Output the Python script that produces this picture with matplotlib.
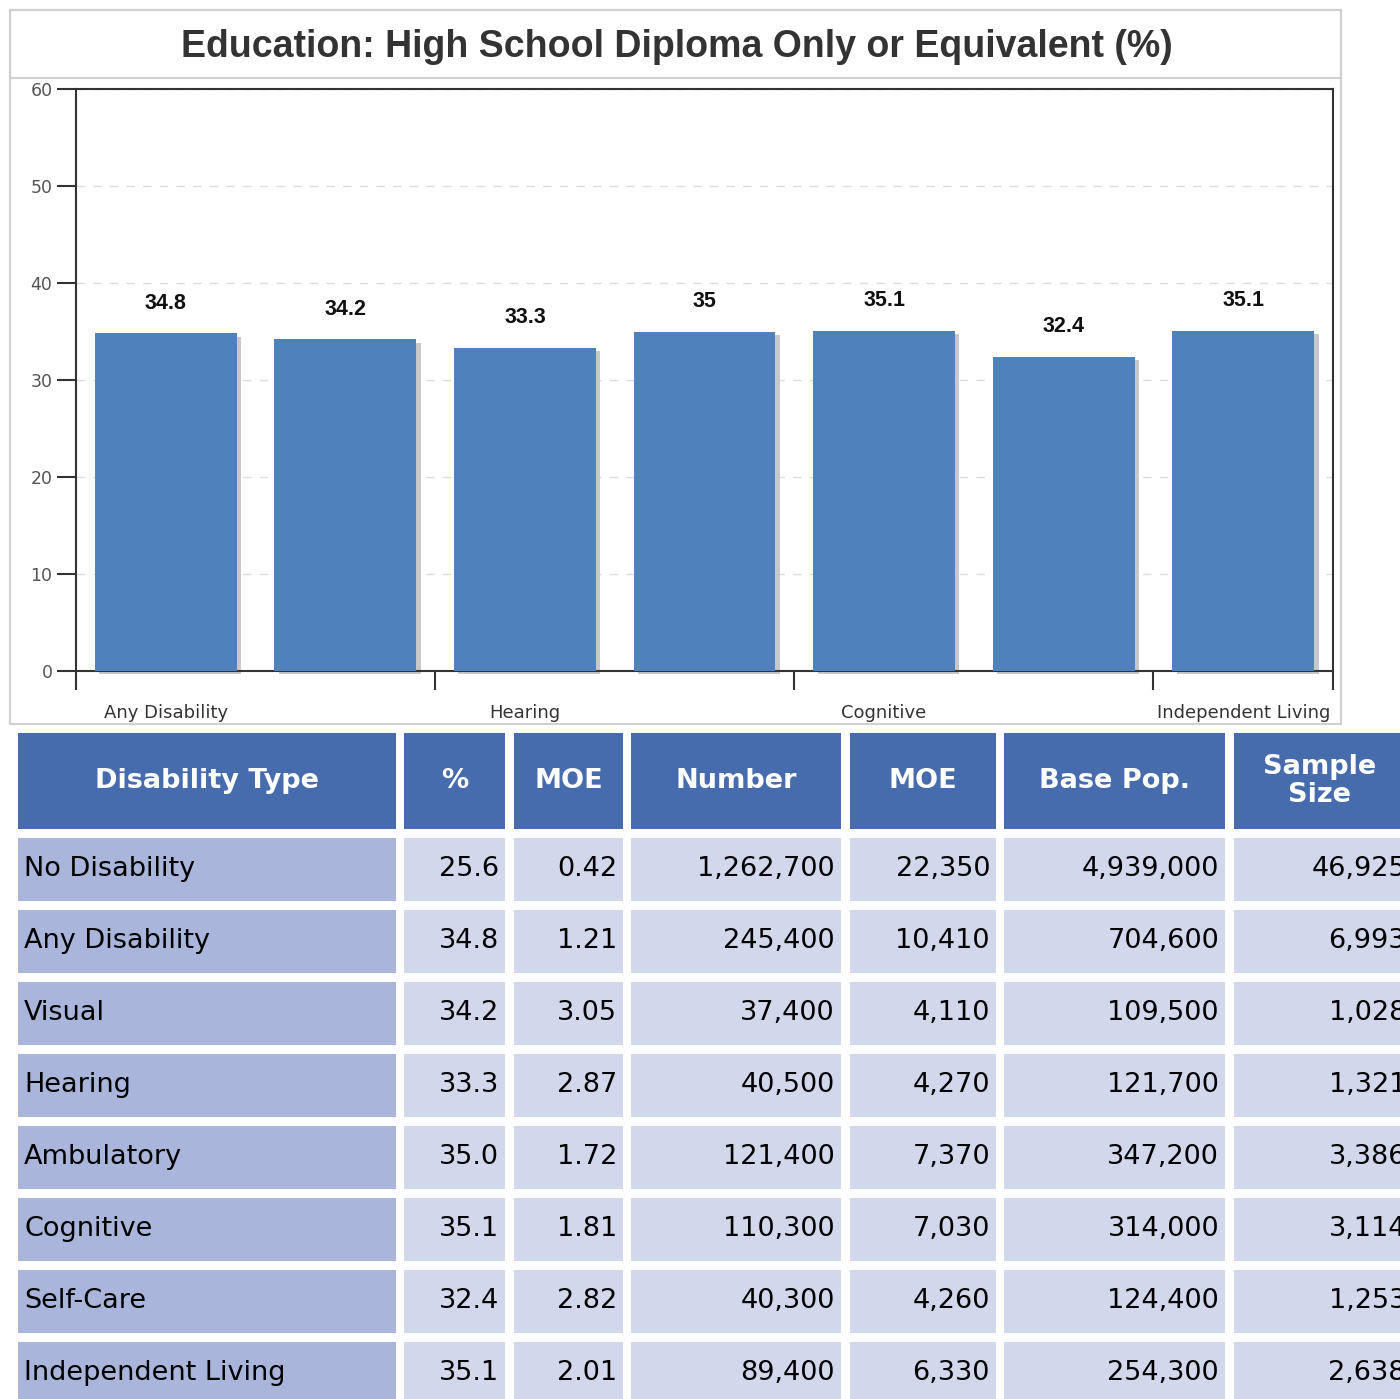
import matplotlib
matplotlib.use("Agg")
import matplotlib.pyplot as plt
from matplotlib.patches import Rectangle

# chart data
categories = ["Any Disability", "Visual", "Hearing", "Ambulatory",
              "Cognitive", "Self-Care", "Independent Living"]
values = [34.8, 34.2, 33.3, 35, 35.1, 32.4, 35.1]
shown_labels = ["Any Disability", "Hearing", "Cognitive", "Independent Living"]

# table data
headers = ["Disability Type", "%", "MOE", "Number", "MOE", "Base Pop.", "Sample\nSize"]
types = ["No Disability", "Any Disability", "Visual", "Hearing", "Ambulatory",
         "Cognitive", "Self-Care", "Independent Living"]
pct = [25.6, 34.8, 34.2, 33.3, 35.0, 35.1, 32.4, 35.1]
pct_moe = [0.42, 1.21, 3.05, 2.87, 1.72, 1.81, 2.82, 2.01]
number = [1262700, 245400, 37400, 40500, 121400, 110300, 40300, 89400]
number_moe = [22350, 10410, 4110, 4270, 7370, 7030, 4260, 6330]
base_pop = [4939000, 704600, 109500, 121700, 347200, 314000, 124400, 254300]
sample = [46925, 6993, 1028, 1321, 3386, 3114, 1253, 2638]

W, H = 1400, 1399
fig = plt.figure(figsize=(W / 100, H / 100), dpi=100)

# overlay in pixel coordinates for boxes and table
ov = fig.add_axes([0, 0, 1, 1], zorder=0)
ov.set_xlim(0, W)
ov.set_ylim(H, 0)
ov.axis("off")
ov.patch.set_alpha(0)

ov.add_patch(Rectangle((10, 10), 1331, 714, fill=False, ec="#d0d0d0", lw=1.5))
ov.add_patch(Rectangle((10, 10), 1331, 68, fill=False, ec="#d0d0d0", lw=1.5))
fig.text(677 / W, 1 - 47 / H, "Education: High School Diploma Only or Equivalent (%)",
         ha="center", va="center", fontsize=27, fontweight="bold",
         family="Liberation Sans", color="#333333")

# table
cols = [(18, 396), (404, 505), (514, 623), (631, 841), (850, 996), (1004, 1225), (1234, 1420)]
head_c = "#476cae"
first_c = "#a9b5da"
cell_c = "#d1d8ec"
for (x0, x1), h in zip(cols, headers):
    ov.add_patch(Rectangle((x0, 733), x1 - x0, 96, fc=head_c, ec="none"))
    xc = (x0 + x1) / 2 if x1 < 1400 else 1320
    ov.text(xc, 781, h, ha="center", va="center", color="white", fontsize=19.5,
            fontweight="bold", family="DejaVu Sans", linespacing=1.1)

columns = [
    types,
    [f"{v:.1f}" for v in pct],
    [f"{v:.2f}" for v in pct_moe],
    [f"{v:,}" for v in number],
    [f"{v:,}" for v in number_moe],
    [f"{v:,}" for v in base_pop],
    [f"{v:,}" for v in sample],
]
for i in range(len(types)):
    y0 = 838 + 72 * i
    for j, ((x0, x1), col) in enumerate(zip(cols, columns)):
        ov.add_patch(Rectangle((x0, y0), x1 - x0, 63,
                               fc=first_c if j == 0 else cell_c, ec="none"))
        if j == 0:
            ov.text(x0 + 6, y0 + 31, col[i], ha="left", va="center",
                    fontsize=19.5, family="DejaVu Sans", color="black")
        else:
            xr = x1 - 6 if j < 6 else 1406
            ov.text(xr, y0 + 31, col[i], ha="right", va="center",
                    fontsize=19.5, family="DejaVu Sans", color="black")

# bar chart
ax = fig.add_axes([76 / W, 1 - 671 / H, (1333 - 76) / W, (671 - 89) / H], zorder=2)
ax.patch.set_alpha(0)
x = [i + 0.5 for i in range(len(categories))]
ax.bar([p + 0.025 for p in x], values, width=0.79, bottom=-0.35,
       color="#c8c8c8", zorder=2, clip_on=False)
ax.bar(x, values, width=0.79, color="#4f81bd", zorder=3)
for p, v in zip(x, values):
    ax.text(p, v + 3.1, f"{v:g}", ha="center", va="center", fontsize=15.5,
            fontweight="bold", family="Liberation Sans", color="#111111")

ax.set_xlim(0, 7)
ax.set_ylim(0, 60)
ax.set_yticks(range(0, 61, 10))
ax.set_xticks([0, 2, 4, 6, 7])
ax.set_xticklabels([])
ax.set_xticks([0.5, 2.5, 4.5, 6.5], minor=True)
ax.set_xticklabels(shown_labels, minor=True)
ax.tick_params(axis="x", which="major", length=14, width=1.5, color="#333333", direction="out")
ax.tick_params(axis="x", which="minor", length=0, pad=24, labelsize=13,
               labelcolor="#333333")
ax.tick_params(axis="y", length=14, width=1.5, color="#333333", pad=3,
               labelsize=12.5, labelcolor="#555555")
for lab in ax.get_xticklabels(minor=True) + ax.get_yticklabels():
    lab.set_family("DejaVu Sans")
for s in ax.spines.values():
    s.set_color("#333333")
    s.set_linewidth(1.5)
ax.grid(axis="y", linestyle=(0, (6, 6)), color="#d8dde3", lw=1, zorder=1)

fig.savefig("out.png", dpi=100)
